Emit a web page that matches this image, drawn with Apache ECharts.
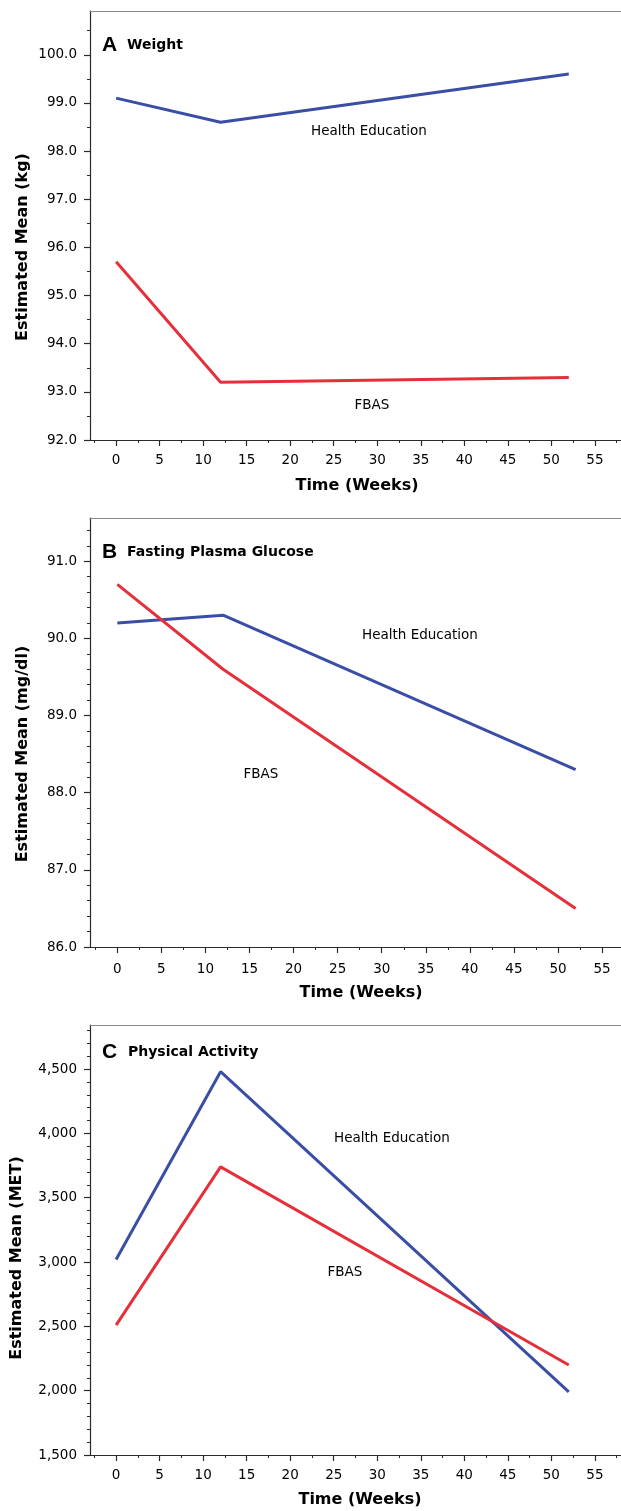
<!DOCTYPE html>
<html>
<head>
<meta charset="utf-8">
<script src="https://cdn.jsdelivr.net/npm/echarts@6/dist/echarts.min.js"></script>
<style>
html,body{margin:0;padding:0;background:#fff;}
#chart{width:621px;height:1511px;}
</style>
</head>
<body>
<div id="chart"></div>
<script>
// ---- data ----
const weeks = [0, 12, 52];
const weightHealthEd = [99.1, 98.6, 99.6];
const weightFBAS = [95.7, 93.2, 93.3];
const glucoseHealthEd = [90.2, 90.3, 88.3];
const glucoseFBAS = [90.7, 89.6, 86.5];
const activityHealthEd = [3020, 4480, 1990];
const activityFBAS = [2510, 3740, 2200];

// ---- tick labels ----
const weekTicks = [0, 5, 10, 15, 20, 25, 30, 35, 40, 45, 50, 55];
const weightTicks = [92, 93, 94, 95, 96, 97, 98, 99, 100];
const glucoseTicks = [86, 87, 88, 89, 90, 91];
const activityTicks = [1500, 2000, 2500, 3000, 3500, 4000, 4500];

const panelLetters = ['A', 'B', 'C'];
const panelTitles = ['Weight', 'Fasting Plasma Glucose', 'Physical Activity'];
const yTitles = ['Estimated Mean (kg)', 'Estimated Mean (mg/dl)', 'Estimated Mean (MET)'];
const xTitle = 'Time (Weeks)';
const seriesNames = ['Health Education', 'FBAS'];

// ---- styling / layout ----
const BLUE = '#3a4ea6';
const RED = '#e5303b';
const AXIS = '#2a2a2a';
const FRAME = '#8a8a8a';
const FONT = 'DejaVu Sans';

function minorBetween(ticks, sub, lo, hi) {
  const out = [];
  const step = (ticks[1] - ticks[0]) / sub;
  for (let v = ticks[0] - step * sub; v <= hi + 1e-9; v += step) {
    const r = Math.round(v * 1000) / 1000;
    if (r < lo - 1e-9) continue;
    const isMajor = ticks.some(t => Math.abs(t - r) < 1e-6);
    if (!isMajor) out.push(r);
  }
  return out;
}
const weekMinor = [];
for (let i = -1; i < weekTicks.length; i++) weekMinor.push(i < 0 ? -2.5 : weekTicks[i] + 2.5);

const panels = [
  { top: 11, height: 429, xMin: -3, xMax: 58, yMin: 92, yMax: 100.91, yTicks: weightTicks, ySub: 2,
    he: weightHealthEd, fb: weightFBAS, fmt: v => v.toFixed(1), labelMarginX: 13 },
  { top: 518, height: 429, xMin: -3.1, xMax: 57.15, yMin: 86, yMax: 91.56, yTicks: glucoseTicks, ySub: 5,
    he: glucoseHealthEd, fb: glucoseFBAS, fmt: v => v.toFixed(1), labelMarginX: 15 },
  { top: 1025, height: 430, xMin: -3, xMax: 58, yMin: 1500, yMax: 4843, yTicks: activityTicks, ySub: 5,
    he: activityHealthEd, fb: activityFBAS, fmt: v => v.toLocaleString('en-US'), labelMarginX: 13 }
];

const grid = [], xAxis = [], yAxis = [], series = [];
panels.forEach((p, i) => {
  grid.push({ left: 90, right: 0, top: p.top, height: p.height, show: false });
  // major x axis
  xAxis.push({ gridIndex: i, type: 'value', min: p.xMin, max: p.xMax, position: 'bottom',
    axisLine: { show: true, onZero: false, lineStyle: { color: AXIS, width: 1.2 } },
    axisTick: { show: true, length: 6, customValues: weekTicks, lineStyle: { color: AXIS, width: 1.2 } },
    axisLabel: { show: true, customValues: weekTicks, margin: p.labelMarginX, fontSize: 13.5, fontFamily: FONT, color: '#000' },
    splitLine: { show: false } });
  // minor x axis
  xAxis.push({ gridIndex: i, type: 'value', min: p.xMin, max: p.xMax, position: 'bottom',
    axisLine: { show: false, onZero: false },
    axisTick: { show: true, length: 3, customValues: weekMinor, lineStyle: { color: AXIS, width: 1 } },
    axisLabel: { show: false }, splitLine: { show: false } });
  // frame top line
  xAxis.push({ gridIndex: i, type: 'value', min: p.xMin, max: p.xMax, position: 'top',
    axisLine: { show: true, onZero: false, lineStyle: { color: FRAME, width: 1.2 } },
    axisTick: { show: false }, axisLabel: { show: false }, splitLine: { show: false } });
  // major y axis
  yAxis.push({ gridIndex: i, type: 'value', min: p.yMin, max: p.yMax, position: 'left',
    axisLine: { show: true, onZero: false, lineStyle: { color: AXIS, width: 1.2 } },
    axisTick: { show: true, length: 6, customValues: p.yTicks, lineStyle: { color: AXIS, width: 1.2 } },
    axisLabel: { show: true, customValues: p.yTicks, margin: 13, fontSize: 13.5, fontFamily: FONT, color: '#000', formatter: p.fmt },
    splitLine: { show: false } });
  // minor y axis
  yAxis.push({ gridIndex: i, type: 'value', min: p.yMin, max: p.yMax, position: 'left',
    axisLine: { show: false, onZero: false },
    axisTick: { show: true, length: 3, customValues: minorBetween(p.yTicks, p.ySub, p.yMin, p.yMax), lineStyle: { color: AXIS, width: 1 } },
    axisLabel: { show: false }, splitLine: { show: false } });

  const xi = i * 3, yi = i * 2;
  series.push({ type: 'line', name: seriesNames[0], xAxisIndex: xi, yAxisIndex: yi, symbol: 'none',
    lineStyle: { color: BLUE, width: 3 }, data: weeks.map((w, k) => [w, p.he[k]]), z: 5, animation: false });
  series.push({ type: 'line', name: seriesNames[1], xAxisIndex: xi, yAxisIndex: yi, symbol: 'none',
    lineStyle: { color: RED, width: 3 }, data: weeks.map((w, k) => [w, p.fb[k]]), z: 5, animation: false });
});

// ---- annotation text ----
function txt(text, x, y, font, opts) {
  return Object.assign({ type: 'text', x: x, y: y, z: 10,
    style: Object.assign({ text: text, font: font, fill: '#000', textAlign: 'left', textVerticalAlign: 'middle' }, (opts && opts.style) || {}) },
    opts && opts.rotation ? { rotation: opts.rotation } : {});
}
const letterFont = 'bold 21px "Liberation Sans"';
const titleFont = 'bold 14px "DejaVu Sans"';
const axisTitleFont = 'bold 16px "DejaVu Sans"';
const labelFont = '13.5px "DejaVu Sans"';
const graphic = [
  txt(panelLetters[0], 102, 45, letterFont), txt(panelTitles[0], 127, 45, titleFont),
  txt(panelLetters[1], 102, 552, letterFont), txt(panelTitles[1], 127, 552, titleFont),
  txt(panelLetters[2], 102, 1052, letterFont), txt(panelTitles[2], 128, 1052, titleFont),

  txt(seriesNames[0], 369, 131, labelFont, { style: { textAlign: 'center' } }),
  txt(seriesNames[1], 372, 405, labelFont, { style: { textAlign: 'center' } }),
  txt(seriesNames[0], 420, 635, labelFont, { style: { textAlign: 'center' } }),
  txt(seriesNames[1], 261, 774, labelFont, { style: { textAlign: 'center' } }),
  txt(seriesNames[0], 392, 1138, labelFont, { style: { textAlign: 'center' } }),
  txt(seriesNames[1], 345, 1272, labelFont, { style: { textAlign: 'center' } }),

  txt(xTitle, 357, 486, axisTitleFont, { style: { textAlign: 'center' } }),
  txt(xTitle, 361, 993, axisTitleFont, { style: { textAlign: 'center' } }),
  txt(xTitle, 360, 1500, axisTitleFont, { style: { textAlign: 'center' } }),

  txt(yTitles[0], 23, 247, axisTitleFont, { style: { textAlign: 'center' }, rotation: Math.PI / 2 }),
  txt(yTitles[1], 23, 754, axisTitleFont, { style: { textAlign: 'center' }, rotation: Math.PI / 2 }),
  txt(yTitles[2], 17, 1258, axisTitleFont, { style: { textAlign: 'center' }, rotation: Math.PI / 2 })
];

const chart = echarts.init(document.getElementById('chart'), null, { renderer: 'canvas' });
chart.setOption({
  animation: false,
  backgroundColor: '#fff',
  grid: grid, xAxis: xAxis, yAxis: yAxis, series: series, graphic: graphic
});
</script>
</body>
</html>
